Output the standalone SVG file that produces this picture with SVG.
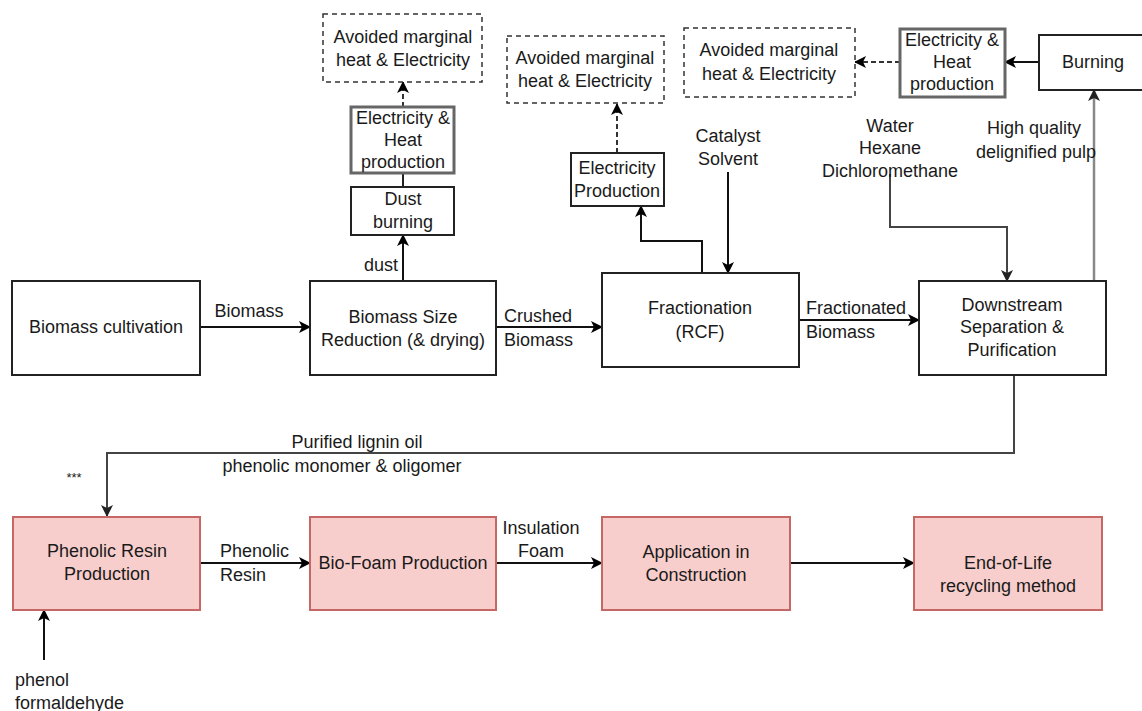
<svg xmlns="http://www.w3.org/2000/svg" width="1142" height="711" viewBox="0 0 1142 711">
<defs>
<marker id="arr" viewBox="0 0 12 12" refX="11" refY="6" markerWidth="12" markerHeight="12" markerUnits="userSpaceOnUse" orient="auto">
<path d="M0,0 L12,6 L0,12 L3,6 Z" fill="#000"/>
</marker>
<marker id="arrg" viewBox="0 0 12 12" refX="11" refY="6" markerWidth="12" markerHeight="12" markerUnits="userSpaceOnUse" orient="auto">
<path d="M0,0 L12,6 L0,12 L3,6 Z" fill="#222"/>
</marker>
<style>
text{font-family:"Liberation Sans",Arial,sans-serif;font-size:18px;fill:#1a1a1a}
.m{text-anchor:middle}
.box{fill:#fff;stroke:#222;stroke-width:2}
.gbox{fill:#fff;stroke:#666;stroke-width:3}
.dbox{fill:#fff;stroke:#333;stroke-width:1.5;stroke-dasharray:5 4}
.pbox{fill:#f8cecc;stroke:#c56764;stroke-width:2}
.c{fill:none;stroke:#111;stroke-width:2;marker-end:url(#arr)}
.cn{fill:none;stroke:#222;stroke-width:2}
.cg{fill:none;stroke:#444;stroke-width:2;marker-end:url(#arrg)}
.cgl{fill:none;stroke:#888;stroke-width:2.5;marker-end:url(#arrg)}
.cd{fill:none;stroke:#333;stroke-width:2;stroke-dasharray:5 3;marker-end:url(#arr)}
</style>
</defs>
<g id="connectors">
<path class="c" d="M200,327 H310"/>
<path class="c" d="M496,327 H602"/>
<path class="c" d="M799,320 H919"/>
<path class="c" d="M403,281 V235"/>
<path class="cn" d="M403,187 V173"/>
<path class="cd" d="M403,107 V82"/>
<path class="c" d="M702,273 V241 H641 V206"/>
<path class="cd" d="M617,153 V104"/>
<path class="c" d="M728,172 V273"/>
<path class="cg" d="M890,174 V227 H1007 V281"/>
<path class="cgl" d="M1094,281 V90"/>
<path class="c" d="M1039,62 H1005"/>
<path class="cd" d="M900,62 H855"/>
<path class="cg" d="M1014,375 V453 H107 V516"/>
<path class="c" d="M200,563 H310"/>
<path class="c" d="M496,563 H602"/>
<path class="c" d="M790,563 H914"/>
<path class="c" d="M44,660 V610"/>
<text class="m" x="249" y="317">Biomass</text>
<text x="504" y="322">Crushed</text>
<text x="504" y="346">Biomass</text>
<text x="806" y="314">Fractionated</text>
<text x="806" y="338">Biomass</text>
<text class="m" x="381" y="271">dust</text>
<text class="m" x="728" y="142">Catalyst</text>
<text class="m" x="728" y="165">Solvent</text>
<text class="m" x="890" y="132">Water</text>
<text class="m" x="890" y="154">Hexane</text>
<text class="m" x="890" y="177">Dichloromethane</text>
<text class="m" x="1034" y="134">High quality</text>
<text class="m" x="1036" y="158">delignified pulp</text>
<text class="m" x="357" y="448">Purified lignin oil</text>
<text class="m" x="342" y="472">phenolic monomer &amp; oligomer</text>
<text class="m" x="74" y="482" style="font-size:13px">***</text>
<text x="220" y="557">Phenolic</text>
<text x="220" y="581">Resin</text>
<text class="m" x="541" y="534">Insulation</text>
<text class="m" x="541" y="557">Foam</text>
<text x="15" y="686">phenol</text>
<text x="15" y="709">formaldehyde</text>
</g>
<g id="biomass-cultivation">
<rect class="box" x="12" y="281" width="188" height="94"/>
<text class="m" x="106" y="333">Biomass cultivation</text>
</g>
<g id="size-reduction">
<rect class="box" x="310" y="281" width="186" height="94"/>
<text class="m" x="403" y="323">Biomass Size</text>
<text class="m" x="403" y="346">Reduction (&amp; drying)</text>
</g>
<g id="fractionation">
<rect class="box" x="602" y="273" width="197" height="94"/>
<text class="m" x="700" y="314">Fractionation</text>
<text class="m" x="700" y="338">(RCF)</text>
</g>
<g id="downstream">
<rect class="box" x="919" y="281" width="187" height="94"/>
<text class="m" x="1012" y="311">Downstream</text>
<text class="m" x="1012" y="333">Separation &amp;</text>
<text class="m" x="1012" y="356">Purification</text>
</g>
<g id="dust-burning">
<rect class="box" x="351" y="187" width="103" height="48"/>
<text class="m" x="403" y="205">Dust</text>
<text class="m" x="403" y="228">burning</text>
</g>
<g id="eh-production-1">
<rect class="gbox" x="351" y="107" width="103" height="66"/>
<text class="m" x="403" y="124">Electricity &amp;</text>
<text class="m" x="403" y="146">Heat</text>
<text class="m" x="403" y="168">production</text>
</g>
<g id="avoided-1">
<rect class="dbox" x="323" y="14" width="159" height="68"/>
<text class="m" x="403" y="43">Avoided marginal</text>
<text class="m" x="403" y="66">heat &amp; Electricity</text>
</g>
<g id="avoided-2">
<rect class="dbox" x="507" y="36" width="157" height="67"/>
<text class="m" x="585" y="64">Avoided marginal</text>
<text class="m" x="585" y="87">heat &amp; Electricity</text>
</g>
<g id="electricity-production">
<rect class="box" x="571" y="153" width="93" height="53"/>
<text class="m" x="617" y="174">Electricity</text>
<text class="m" x="617" y="197">Production</text>
</g>
<g id="avoided-3">
<rect class="dbox" x="684" y="28" width="171" height="69"/>
<text class="m" x="769" y="56">Avoided marginal</text>
<text class="m" x="769" y="80">heat &amp; Electricity</text>
</g>
<g id="eh-production-2">
<rect class="gbox" x="900" y="29" width="105" height="68"/>
<text class="m" x="952" y="46">Electricity &amp;</text>
<text class="m" x="952" y="68">Heat</text>
<text class="m" x="952" y="90">production</text>
</g>
<g id="burning">
<rect class="box" x="1039" y="35" width="110" height="55"/>
<text class="m" x="1093" y="68">Burning</text>
</g>
<g id="phenolic-resin">
<rect class="pbox" x="13" y="517" width="187" height="93"/>
<text class="m" x="107" y="557">Phenolic Resin</text>
<text class="m" x="107" y="580">Production</text>
</g>
<g id="bio-foam">
<rect class="pbox" x="310" y="517" width="186" height="93"/>
<text class="m" x="403" y="569">Bio-Foam Production</text>
</g>
<g id="application">
<rect class="pbox" x="602" y="517" width="188" height="93"/>
<text class="m" x="696" y="558">Application in</text>
<text class="m" x="696" y="581">Construction</text>
</g>
<g id="end-of-life">
<rect class="pbox" x="914" y="517" width="188" height="93"/>
<text class="m" x="1008" y="569">End-of-Life</text>
<text class="m" x="1008" y="592">recycling method</text>
</g>
</svg>
